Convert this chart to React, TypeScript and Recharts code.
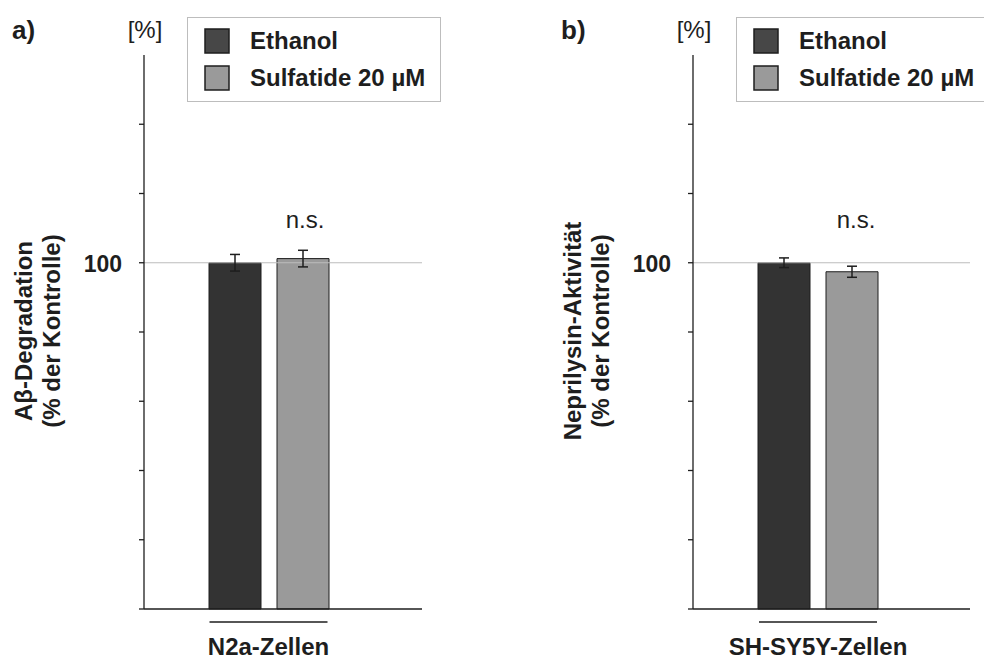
import { BarChart, Bar, XAxis, YAxis, ReferenceLine, ErrorBar } from 'recharts';

const FONT = '"Liberation Sans", Arial, Helvetica, sans-serif';
const INK = '#1e1e1e';
const DARK = '#333333';
const LIGHT = '#9a9a9a';

// panel a) N2a cells
const categoriesA = ['N2a-Zellen'];
const ethanolA = [100];
const ethanolErrA = [2.4];
const sulfatideA = [101.2];
const sulfatideErrA = [2.4];

// panel b) SH-SY5Y cells
const categoriesB = ['SH-SY5Y-Zellen'];
const ethanolB = [100];
const ethanolErrB = [1.4];
const sulfatideB = [97.4];
const sulfatideErrB = [1.6];

const yTicks = [0, 20, 40, 60, 80, 100, 120, 140];
const yMax = 160;
const labelledTick = 100;
const seriesNames = ['Ethanol', 'Sulfatide 20 µM'];

function buildRows(cats: string[], e: number[], eErr: number[], s: number[], sErr: number[]) {
  return cats.map((c, i) => ({
    cat: c,
    ethanol: e[i],
    ethanolErr: eErr[i],
    sulfatide: s[i],
    sulfatideErr: sErr[i],
  }));
}

const rowsA = buildRows(categoriesA, ethanolA, ethanolErrA, sulfatideA, sulfatideErrA);
const rowsB = buildRows(categoriesB, ethanolB, ethanolErrB, sulfatideB, sulfatideErrB);

const XTick = (props: any) => {
  const { x, y, payload } = props;
  return (
    <g>
      <line x1={x - 59} x2={x + 59} y1={y + 13} y2={y + 13} stroke={INK} strokeWidth={1.5} />
      <text x={x} y={y + 46} textAnchor="middle" fontFamily={FONT} fontWeight="bold" fontSize={24} fill={INK}>
        {payload.value}
      </text>
    </g>
  );
};

const YTick = (props: any) => {
  const { x, y, payload } = props;
  if (payload.value !== labelledTick) return <g />;
  return (
    <text x={x - 15} y={y + 9} textAnchor="end" fontFamily={FONT} fontWeight="bold" fontSize={23} fill={INK}>
      {payload.value}
    </text>
  );
};

function Panel({ rows, width, marginRight, padRight }: any) {
  return (
    <BarChart
      width={width}
      height={661}
      data={rows}
      margin={{ top: 55, right: marginRight, bottom: 22, left: 84 }}
      barSize={52}
      barGap={16}
    >
      <XAxis
        dataKey="cat"
        height={30}
        padding={{ left: 0, right: padRight }}
        axisLine={{ stroke: INK, strokeWidth: 1.3 }}
        tickLine={false}
        tickSize={0}
        tickMargin={0}
        interval={0}
        tick={XTick}
      />
      <YAxis
        width={60}
        domain={[0, yMax]}
        ticks={yTicks}
        interval={0}
        axisLine={{ stroke: INK, strokeWidth: 1.3 }}
        tickLine={{ stroke: INK, strokeWidth: 1.3 }}
        tickSize={5}
        tick={YTick}
      />
      <ReferenceLine y={100} stroke="#bdbdbd" strokeWidth={1} />
      <Bar dataKey="ethanol" fill={DARK} stroke={INK} strokeWidth={1} isAnimationActive={false}>
        <ErrorBar dataKey="ethanolErr" width={5} stroke={INK} strokeWidth={1.5} />
      </Bar>
      <Bar dataKey="sulfatide" fill={LIGHT} stroke={INK} strokeWidth={1} isAnimationActive={false}>
        <ErrorBar dataKey="sulfatideErr" width={5} stroke={INK} strokeWidth={1.5} />
      </Bar>
    </BarChart>
  );
}

function PanelText({ dx, letter, line1, line2, nsX }: any) {
  const t = { fontFamily: FONT, fill: INK };
  return (
    <g transform={`translate(${dx},0)`}>
      <text x={12} y={39} fontSize={26} fontWeight="bold" {...t}>{letter}</text>
      <text x={145} y={38} fontSize={24} textAnchor="middle" {...t}>[%]</text>
      <text transform="translate(32,331) rotate(-90)" textAnchor="middle" fontSize={24} fontWeight="bold" {...t}>
        {line1}
      </text>
      <text transform="translate(60,331) rotate(-90)" textAnchor="middle" fontSize={24} fontWeight="bold" {...t}>
        {line2}
      </text>
      <text x={nsX} y={228} textAnchor="middle" fontSize={24} {...t}>n.s.</text>
      <rect x={187.5} y={17.5} width={253} height={84} fill="#fff" stroke="#bdbdbd" strokeWidth={1} />
      <rect x={205} y={29} width={24} height={24} fill="#474747" stroke={INK} strokeWidth={1.5} />
      <rect x={205} y={66} width={24} height={24} fill={LIGHT} stroke={INK} strokeWidth={1.5} />
      <text x={250} y={49} fontSize={24} fontWeight="bold" {...t}>{seriesNames[0]}</text>
      <text x={250} y={86} fontSize={24} fontWeight="bold" {...t}>{seriesNames[1]}</text>
    </g>
  );
}

export default function App() {
  return (
    <div
      style={{
        position: 'absolute',
        left: 0,
        top: 0,
        width: 984,
        height: 661,
        overflow: 'hidden',
        background: '#fff',
      }}
    >
      <div style={{ position: 'absolute', left: 0, top: 0 }}>
        <Panel rows={rowsA} width={549} marginRight={127} padRight={29} />
      </div>
      <div style={{ position: 'absolute', left: 549, top: 0 }}>
        <Panel rows={rowsB} width={435} marginRight={14} padRight={27} />
      </div>
      <svg
        width={984}
        height={661}
        style={{ position: 'absolute', left: 0, top: 0, pointerEvents: 'none' }}
      >
        <PanelText dx={0} letter="a)" line1="Aβ-Degradation" line2="(% der Kontrolle)" nsX={305} />
        <PanelText dx={549} letter="b)" line1="Neprilysin-Aktivität" line2="(% der Kontrolle)" nsX={307} />
      </svg>
    </div>
  );
}
